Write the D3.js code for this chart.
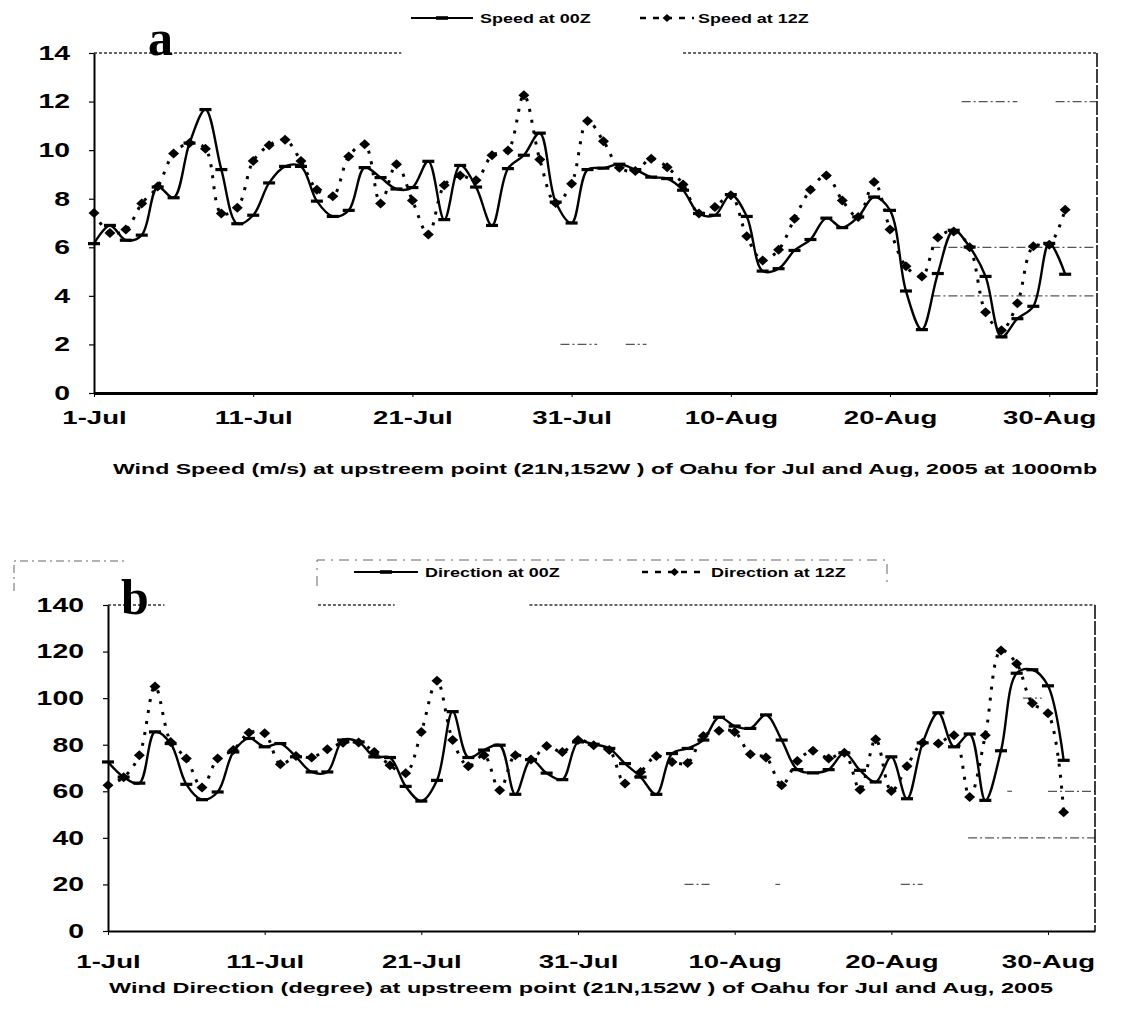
<!DOCTYPE html>
<html>
<head>
<meta charset="utf-8">
<script src="https://cdn.jsdelivr.net/npm/d3@7"></script>
<style>
body { margin: 0; background: #fff; }
text { font-family: "Liberation Sans", Arial, sans-serif; }
</style>
</head>
<body>
<div id="chart"></div>
<script>
// day index 0 = 1-Jul
const dayTicks = [0, 10, 20, 30, 40, 50, 60];
const dayLabels = ["1-Jul", "11-Jul", "21-Jul", "31-Jul", "10-Aug", "20-Aug", "30-Aug"];
const speedTicks = [0, 2, 4, 6, 8, 10, 12, 14];
const dirTicks = [0, 20, 40, 60, 80, 100, 120, 140];

const speed00 = [6.15, 6.9, 6.29, 6.5, 8.48, 8.04, 10.29, 11.67, 9.2, 6.97,
    7.32, 8.65, 9.33, 9.33, 7.9, 7.27, 7.52, 9.28, 8.87, 8.4,
    8.46, 9.54, 7.14, 9.37, 8.48, 6.9, 9.24, 9.79, 10.7, 7.86,
    7.0, 9.2, 9.26, 9.42, 9.2, 8.89, 8.83, 8.35, 7.39, 7.32,
    8.17, 7.27, 5.02, 5.12, 5.87, 6.32, 7.2, 6.81, 7.25, 8.07,
    7.52, 4.2, 2.61, 4.92, 6.7, 6.01, 4.8, 2.31, 3.06, 3.57,
    6.16, 4.89];
const speed12 = [7.41, 6.59, 6.73, 7.8, 8.5, 9.86, 10.29, 10.06, 7.39, 7.63,
    9.55, 10.2, 10.43, 9.55, 8.37, 8.1, 9.74, 10.24, 7.8, 9.42,
    7.93, 6.53, 8.55, 8.96, 8.76, 9.79, 9.99, 12.26, 9.61, 7.82,
    8.62, 11.2, 10.37, 9.28, 9.14, 9.65, 9.3, 8.59, 7.39, 7.66,
    8.14, 6.45, 5.46, 5.9, 7.18, 8.37, 8.96, 7.93, 7.25, 8.69,
    6.73, 5.22, 4.8, 6.4, 6.65, 6.0, 3.33, 2.58, 3.7, 6.04,
    6.1, 7.55];
const dir00 = [72.6, 66.1, 63.5, 85.5, 80.5, 63, 56.4, 59.7, 76.9, 82.7,
    79.1, 80.5, 74.8, 68.3, 68.3, 82, 81.2, 74.8, 74.5, 62.1,
    55.8, 64.7, 94.2, 74.5, 77.7, 79.8, 58.7, 73.6, 67.8, 65,
    81.2, 80.2, 78.4, 71.9, 66.1, 58.7, 76.2, 78.4, 82, 91.8,
    88, 87, 92.8, 82, 69.3, 67.9, 69.3, 76.5, 69, 64,
    74.8, 56.8, 80.8, 93.7, 79.1, 84.6, 56.1, 77.4, 110.7, 112.2,
    105.3, 73.3];
const dir12 = [62.6, 66, 75.5, 105, 81.2, 74.1, 61.6, 74.1, 77.7, 85.1,
    84.9, 71.6, 75.1, 74.5, 78, 80.8, 81, 76.9, 71.2, 67.7,
    85.5, 107.5, 82, 70.8, 75.5, 60.4, 75.5, 73.6, 79.4, 76.9,
    82, 79.8, 77.7, 63.3, 68.3, 75.1, 72.6, 72.2, 83.7, 86,
    85.5, 75.9, 74.5, 62.6, 73, 77.4, 74.1, 76.5, 60.7, 82.3,
    60.1, 70.8, 80.8, 80.5, 84.1, 57.5, 84.1, 120.5, 114.8, 97.8,
    93.5, 51];

// leftover gridline pieces of the scan: [value, fromDay, toDay]
const speedGridBits = [[12, 54.5, 58], [12, 60.4, 63], [6, 52.6, 63], [4, 52.6, 63], [2, 29.3, 31.6], [2, 33.4, 34.7]];
const dirGridBits = [[100, 58.4, 59.6], [60, 57.4, 57.7], [60, 60, 63], [40, 54.9, 63], [20, 36.8, 38.4], [20, 42.6, 42.9], [20, 50.6, 52]];
const speedTopBorder = [[0, 19.3], [37, 63]];
const dirTopBorder = [[0, 3.6], [13.4, 18.3], [26.9, 63]];

const width = 1143, height = 1024;
const svg = d3.select("#chart").append("svg")
    .attr("width", width)
    .attr("height", height)
    .attr("viewBox", [0, 0, width, height]);

function stretch(sel, k)
{
    sel.each(function() {
        const w = this.getComputedTextLength();
        d3.select(this).attr("textLength", w * k).attr("lengthAdjust", "spacingAndGlyphs");
    });
}

const diamond = "M0,-5L5.5,0L0,5L-5.5,0Z";

function drawPanel(p)
{
    const x = d3.scaleLinear([0, 63], [p.left, p.right]);
    const y = d3.scaleLinear([p.yTicks[0], p.yTicks[p.yTicks.length - 1]], [p.bottom, p.top]);
    const g = svg.append("g");

    // scan leftovers of the gridlines
    g.append("g")
        .attr("stroke", "#555")
        .attr("stroke-width", 1.2)
        .attr("stroke-dasharray", "9,3,2,3")
        .selectAll("line")
        .data(p.gridBits)
        .join("line")
        .attr("x1", d => x(d[1]))
        .attr("x2", d => x(d[2]))
        .attr("y1", d => y(d[0]))
        .attr("y2", d => y(d[0]));

    // dotted top border
    g.append("g")
        .attr("stroke", "#333")
        .attr("stroke-width", 1.3)
        .attr("stroke-dasharray", "3,2")
        .selectAll("line")
        .data(p.topBorder)
        .join("line")
        .attr("x1", d => x(d[0]))
        .attr("x2", d => x(d[1]))
        .attr("y1", y.range()[1])
        .attr("y2", y.range()[1]);

    // right border
    g.append("line")
        .attr("x1", p.right).attr("x2", p.right)
        .attr("y1", p.top).attr("y2", p.bottom)
        .attr("stroke", "#111")
        .attr("stroke-width", 1.6)
        .attr("stroke-dasharray", "14,2");

    // y axis
    const yAxis = g.append("g")
        .attr("transform", `translate(${p.left},0)`)
        .call(d3.axisLeft(y).tickValues(p.yTicks).tickSize(5).tickPadding(19).tickSizeOuter(0))
        .call(a => a.select(".domain").attr("stroke-width", 2).attr("stroke", "#000"))
        .call(a => a.selectAll(".tick line").attr("stroke-width", 1.2));
    yAxis.selectAll("text")
        .attr("font-size", 20)
        .attr("font-weight", "bold")
        .attr("fill", "#000")
        .call(stretch, 1.42);

    // x axis
    const xAxis = g.append("g")
        .attr("transform", `translate(0,${p.bottom})`)
        .call(d3.axisBottom(x).tickValues(dayTicks).tickFormat((d, i) => dayLabels[i]).tickSize(4).tickPadding(p.xPad).tickSizeOuter(0))
        .call(a => a.select(".domain").attr("stroke-width", p.xAxisWidth).attr("stroke", "#000"))
        .call(a => a.selectAll(".tick line").attr("stroke-width", 1));
    xAxis.selectAll("text")
        .attr("font-size", 19)
        .attr("font-weight", "bold")
        .attr("fill", "#000")
        .call(stretch, 1.45);

    const curve = d3.curveCatmullRom;
    const line = d3.line().x((d, i) => x(i)).y(d => y(d)).curve(curve);

    // 12Z: dotted line with diamonds
    g.append("path")
        .datum(p.s12)
        .attr("fill", "none")
        .attr("stroke", "#000")
        .attr("stroke-width", 3)
        .attr("stroke-dasharray", "3,8")
        .attr("d", line);

    // 00Z: solid line with dash markers
    g.append("path")
        .datum(p.s00)
        .attr("fill", "none")
        .attr("stroke", "#000")
        .attr("stroke-width", 2.4)
        .attr("d", line);

    g.append("g")
        .selectAll("path")
        .data(p.s12)
        .join("path")
        .attr("d", diamond)
        .attr("transform", (d, i) => `translate(${x(i)},${y(d)})`)
        .attr("fill", "#000");

    g.append("g")
        .selectAll("rect")
        .data(p.s00)
        .join("rect")
        .attr("x", (d, i) => x(i) - 6)
        .attr("y", d => y(d) - 1.6)
        .attr("width", 12)
        .attr("height", 3.2)
        .attr("fill", "#000");

    // panel letter
    g.append("text")
        .attr("x", p.letterX)
        .attr("y", p.letterY)
        .attr("font-family", "'Liberation Serif', 'DejaVu Serif', serif")
        .attr("font-size", 50)
        .attr("font-weight", "bold")
        .style("font-family", "'Liberation Serif', serif")
        .text(p.letter);

    // legend
    const lg = g.append("g").attr("transform", `translate(0,${p.legendY})`);
    lg.append("line")
        .attr("x1", p.leg[0]).attr("x2", p.leg[1])
        .attr("stroke", "#000").attr("stroke-width", 2.2);
    lg.append("rect")
        .attr("x", (p.leg[0] + p.leg[1]) / 2 - 6).attr("y", -1.8)
        .attr("width", 12).attr("height", 3.6);
    lg.append("text")
        .attr("x", p.leg[2]).attr("y", 5)
        .attr("font-size", 13).attr("font-weight", "bold")
        .text(p.names[0])
        .call(stretch, 1.38);
    lg.append("line")
        .attr("x1", p.leg[3]).attr("x2", p.leg[4])
        .attr("stroke", "#000").attr("stroke-width", 2.4)
        .attr("stroke-dasharray", "6,7");
    lg.append("path")
        .attr("d", diamond)
        .attr("transform", `translate(${(p.leg[3] + p.leg[4]) / 2},0) scale(0.8)`);
    lg.append("text")
        .attr("x", p.leg[5]).attr("y", 5)
        .attr("font-size", 13).attr("font-weight", "bold")
        .text(p.names[1])
        .call(stretch, 1.38);

    // title under the axis
    g.append("text")
        .attr("x", p.titleX)
        .attr("y", p.titleY)
        .attr("font-size", 15)
        .attr("font-weight", "bold")
        .attr("textLength", p.titleW)
        .attr("lengthAdjust", "spacingAndGlyphs")
        .text(p.title);

    return g;
}

drawPanel({
    left: 94, right: 1097, top: 53, bottom: 393,
    yTicks: speedTicks, s00: speed00, s12: speed12,
    gridBits: speedGridBits, topBorder: speedTopBorder,
    xPad: 14, xAxisWidth: 3,
    letter: "a", letterX: 148, letterY: 55,
    legendY: 18, leg: [411, 473, 480, 640, 694, 698],
    names: ["Speed at 00Z", "Speed at 12Z"],
    title: "Wind Speed (m/s) at upstreem point  (21N,152W ) of Oahu for Jul and Aug, 2005 at 1000mb",
    titleX: 113, titleY: 474, titleW: 984
});

const gb = drawPanel({
    left: 108, right: 1095, top: 605, bottom: 931,
    yTicks: dirTicks, s00: dir00, s12: dir12,
    gridBits: dirGridBits, topBorder: dirTopBorder,
    xPad: 20, xAxisWidth: 2,
    letter: "b", letterX: 121, letterY: 614,
    legendY: 572, leg: [354, 418, 425, 642, 707, 711],
    names: ["Direction at 00Z", "Direction at 12Z"],
    title: "Wind Direction (degree) at upstreem point  (21N,152W ) of Oahu for Jul and Aug, 2005",
    titleX: 109, titleY: 993, titleW: 944
});

// faint leftover frames around the second panel's legend
gb.append("path")
    .attr("d", "M317,586V560H887V587")
    .attr("fill", "none")
    .attr("stroke", "#666")
    .attr("stroke-width", 1)
    .attr("stroke-dasharray", "10,6,2,6");
gb.append("path")
    .attr("d", "M14,591V561H127")
    .attr("fill", "none")
    .attr("stroke", "#666")
    .attr("stroke-width", 1)
    .attr("stroke-dasharray", "8,4,2,4");
</script>
</body>
</html>
